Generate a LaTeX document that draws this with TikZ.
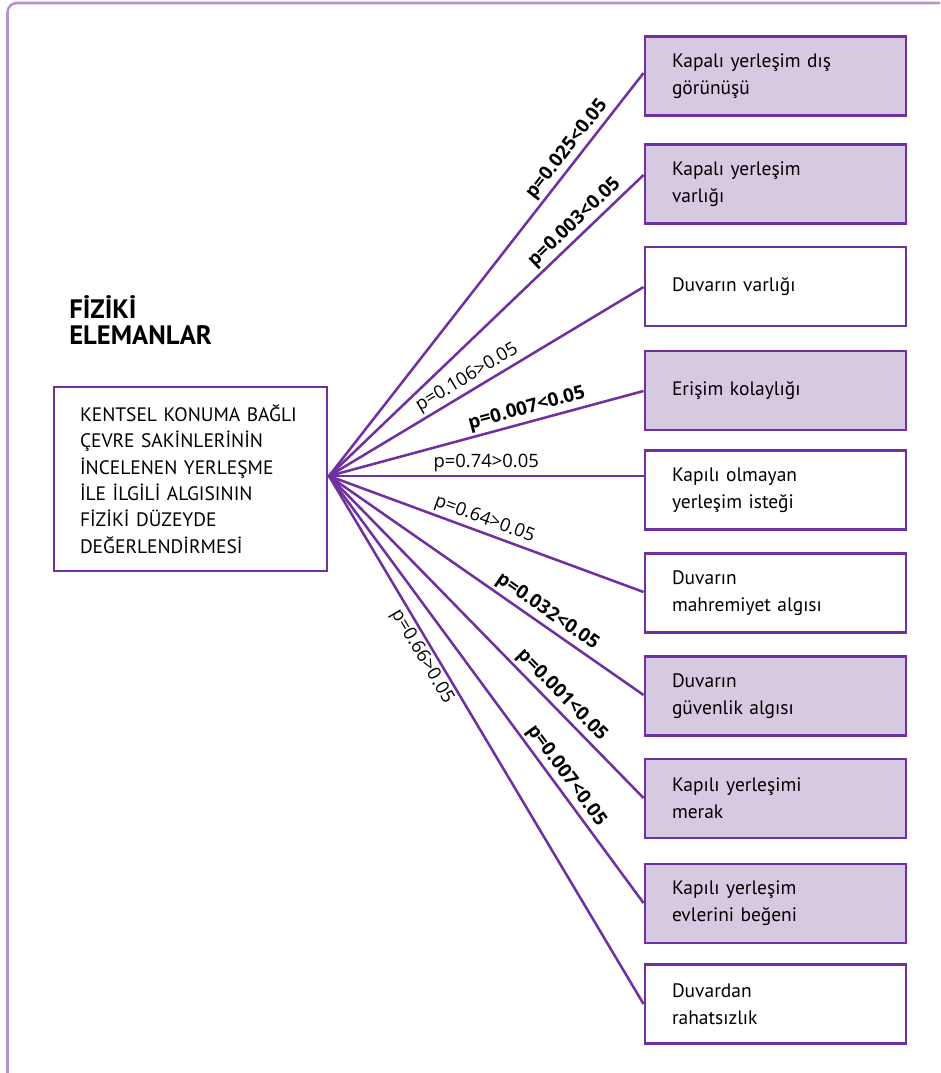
\documentclass[tikz,border=0pt]{standalone}
\usepackage{fontspec}
\setmainfont{PT Sans}
\newfontfamily\pfont{Open Sans}
\definecolor{linepurple}{RGB}{112,48,160}
\definecolor{boxfill}{RGB}{216,201,227}
\definecolor{framepurple}{RGB}{181,146,206}
\begin{document}
\begin{tikzpicture}[x=0.75pt,y=-0.75pt,
    item/.style={draw=linepurple,line width=2.2pt,minimum width=195.75pt,minimum height=59.25pt,
      text width=155.25pt,inner xsep=20.25pt,align=left,font=\fontsize{14.6}{20.25}\selectfont},
    link/.style={draw=linepurple,line width=1.9pt},
    plabel/.style={sloped,inner sep=2pt},
    sig/.style={font=\pfont\bfseries\fontsize{14.2}{16}\selectfont},
    nonsig/.style={font=\pfont\fontsize{13.8}{16}\selectfont}]
  \useasboundingbox (0,0) rectangle (940,1073);
  \draw[framepurple,line width=1.9pt,rounded corners=7pt] (7.5,1073) -- (7.5,3) -- (940,3);
  \node[anchor=north west,inner sep=0pt,align=left,font=\bfseries\fontsize{20}{19.5}\selectfont] (title) at (69,295) {FİZİKİ\\ELEMANLAR};
  \node[draw=linepurple,line width=2.2pt,minimum width=204.75pt,minimum height=138pt,
    text width=165.75pt,inner xsep=19.5pt,align=left,font=\fontsize{14.6}{19.8}\selectfont] (main) at (190.5,479)
    {KENTSEL KONUMA BAĞLI\\ÇEVRE SAKİNLERİNİN\\İNCELENEN YERLEŞME\\İLE İLGİLİ ALGISININ\\FİZİKİ DÜZEYDE\\DEĞERLENDİRMESİ};
  \coordinate (c) at (329,476);
  \def \Boxes{
    1/76/boxfill/{Kapalı yerleşim dış\\görünüşü},
    2/184/boxfill/{Kapalı yerleşim\\varlığı},
    3/286.5/white/{Duvarın varlığı},
    4/390.5/boxfill/{Erişim kolaylığı},
    5/490/white/{Kapılı olmayan\\yerleşim isteği},
    6/593/white/{Duvarın\\mahremiyet algısı},
    7/696/boxfill/{Duvarın\\güvenlik algısı},
    8/798.5/boxfill/{Kapılı yerleşimi\\merak},
    9/903.5/boxfill/{Kapılı yerleşim\\evlerini beğeni},
    10/1004/white/{Duvardan\\rahatsızlık}}
  \def \Edges{
    1/73/0.79/above/sig/{p=0.025<0.05},
    2/175/0.81/above/sig/{p=0.003<0.05},
    3/287/0.46/above/nonsig/{p=0.106>0.05},
    4/391/0.64/above/sig/{p=0.007<0.05},
    5/476/0.50/above/nonsig/{p=0.74>0.05},
    6/592/0.48/above/nonsig/{p=0.64>0.05},
    7/695/0.67/above/sig/{p=0.032<0.05},
    8/798/0.71/above/sig/{p=0.001<0.05},
    9/903/0.72/above/sig/{p=0.007<0.05},
    10/1004/0.33/below/nonsig/{p=0.66>0.05}}
  \foreach \id / \y / \col / \txt in \Boxes{
    \node[item,fill=\col] (b\id) at (775.5,\y) {\txt};
  }
  \foreach \id / \ye / \t / \side / \w / \txt in \Edges{
    \draw[link] (c) -- (b\id.west |- 0,\ye) node[plabel,\w,\side,pos=\t] {\txt};
  }
\end{tikzpicture}
\end{document}
